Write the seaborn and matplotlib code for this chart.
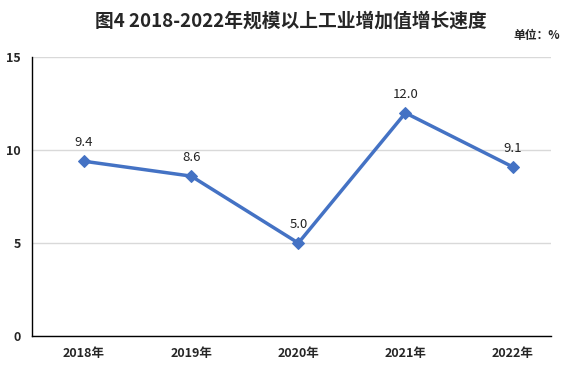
import matplotlib
matplotlib.use('Agg')
import matplotlib.pyplot as plt
import seaborn as sns
import pandas as pd

## 数据
years = ['2018年', '2019年', '2020年', '2021年', '2022年']
growth = [9.4, 8.6, 5.0, 12.0, 9.1]
yticks = [0, 5, 10, 15]

df = pd.DataFrame({'year': years, 'growth': growth})

sns.set_style('white')
plt.rcParams['font.family'] = ['Noto Sans CJK SC', 'DejaVu Sans']
plt.rcParams['axes.unicode_minus'] = False

fig = plt.figure(figsize=(5.82, 3.76), dpi=100)
ax = fig.add_axes([0.055, 0.1064, 0.892, 0.7416])

sns.lineplot(x=range(len(years)), y='growth', data=df, ax=ax, color='#4472C4',
             linewidth=2.5, marker='D', markersize=6, markeredgecolor='#4472C4')

## 数据标签
for i, v in enumerate(growth):
    ax.text(i, v + 0.65, f'{v:.1f}', ha='center', va='bottom', fontsize=9.5, color='#222222')

ax.set_ylim(0, 15)
ax.set_xlim(-0.486, 4.36)
ax.set_yticks(yticks)
ax.set_yticklabels([str(t) for t in yticks], fontsize=9, fontweight='bold')
ax.set_xticks(range(len(years)))
ax.set_xticklabels(years, fontsize=9, fontweight='bold')
ax.tick_params(axis='both', length=0, pad=8)
ax.set_xlabel('')
ax.set_ylabel('')

ax.grid(axis='y', color='#d9d9d9', linewidth=1)
ax.set_axisbelow(True)
for s in ['top', 'right']:
    ax.spines[s].set_visible(False)
for s in ['left', 'bottom']:
    ax.spines[s].set_color('black')
    ax.spines[s].set_linewidth(1)

fig.text(0.5, 0.945, '图4 2018-2022年规模以上工业增加值增长速度', ha='center', va='center',
         fontsize=13.5, fontweight='bold')
fig.text(0.962, 0.905, '单位：%', ha='right', va='center', fontsize=8.5, fontweight='bold')

fig.savefig('out.png', dpi=100)
